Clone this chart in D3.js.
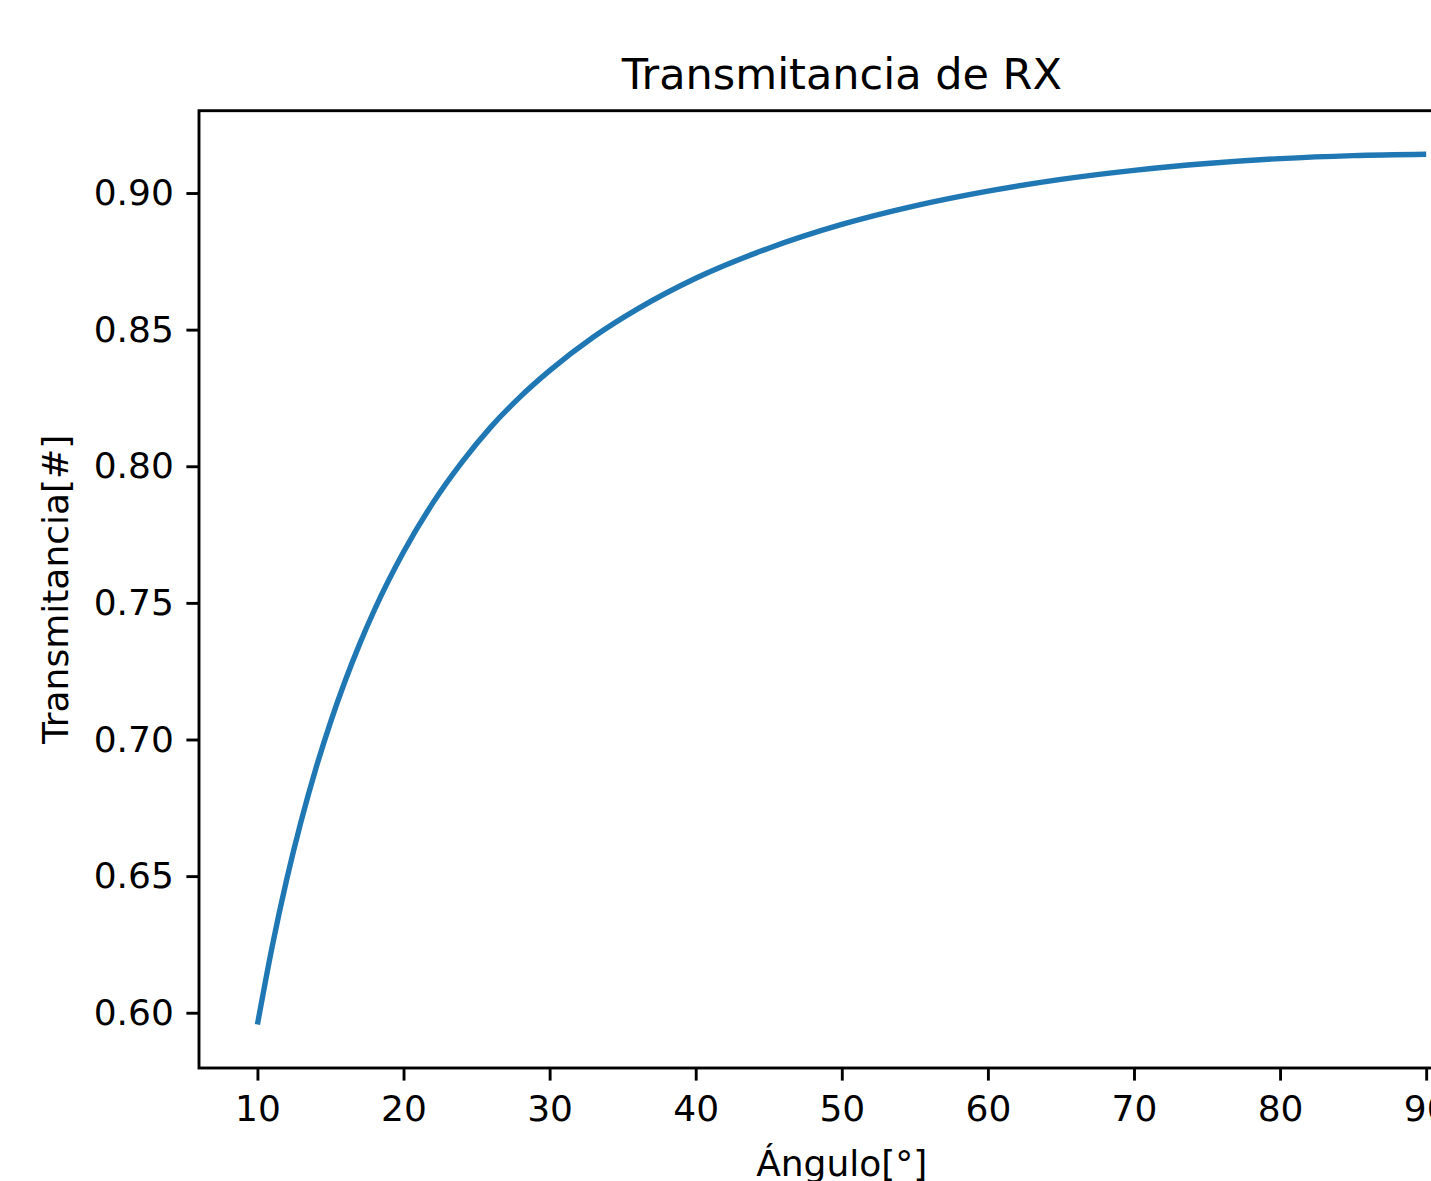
<!DOCTYPE html>
<html>
<head>
<meta charset="utf-8">
<script src="https://cdn.jsdelivr.net/npm/d3@7"></script>
<style>
  body { margin: 0; background: #fff; }
  .chart text { font-family: "DejaVu Sans", sans-serif; fill: #000; }
</style>
</head>
<body>
<div class="chart"></div>
<script>
// Angle values (degrees) and the transmittance
var angulos = [10, 11, 12, 13, 14, 15, 16, 17, 18, 20, 22, 24, 26, 28, 30,
  33, 36, 40, 45, 50, 55, 60, 65, 70, 75, 80, 85, 90];
var transmitancia = [0.5957, 0.6240, 0.6487, 0.6703, 0.6894, 0.7063, 0.7214,
  0.7350, 0.7473, 0.7686, 0.7865, 0.8015, 0.8145, 0.8255, 0.8350, 0.8473,
  0.8575, 0.8688, 0.8798, 0.8885, 0.8953, 0.9007, 0.9050, 0.9083, 0.9108,
  0.9126, 0.9137, 0.9142];
var xTicks = [10, 20, 30, 40, 50, 60, 70, 80, 90];
var yTicks = [0.60, 0.65, 0.70, 0.75, 0.80, 0.85, 0.90];

var svgWidth = 1431;
var svgHeight = 1181;

// axes box (the right side runs past the picture edge, as in the original)
var margin = { top: 110.7, left: 199 };
var width = 1285.6;
var height = 957.3;

var svg = d3.select(".chart")
  .append("svg")
  .attr("width", svgWidth)
  .attr("height", svgHeight);

var chart = svg.append("g")
  .attr("transform", "translate(" + margin.left + "," + margin.top + ")");

var data = angulos.map(function(a, i) {
  return { angulo: a, t: transmitancia[i] };
});

// matplotlib-like 5% margins
var xMin = d3.min(angulos), xMax = d3.max(angulos);
var yMin = d3.min(transmitancia), yMax = d3.max(transmitancia);
var xPad = (xMax - xMin) * 0.05, yPad = (yMax - yMin) * 0.05;

var xLinearScale = d3.scaleLinear()
  .domain([xMin - xPad, xMax + xPad])
  .range([0, width]);

var yLinearScale = d3.scaleLinear()
  .domain([yMin - yPad, yMax + yPad])
  .range([height, 0]);

var line = d3.line()
  .x(function(d) { return xLinearScale(d.angulo); })
  .y(function(d) { return yLinearScale(d.t); })
  .curve(d3.curveMonotoneX);

chart.append("path")
  .datum(data)
  .attr("d", line)
  .attr("fill", "none")
  .attr("stroke", "#1f77b4")
  .attr("stroke-width", 5.4)
  .attr("stroke-linecap", "butt");

var bottomAxis = d3.axisBottom(xLinearScale)
  .tickValues(xTicks)
  .tickFormat(d3.format("d"))
  .tickSizeInner(12.6)
  .tickSizeOuter(0)
  .tickPadding(14.5);

var leftAxis = d3.axisLeft(yLinearScale)
  .tickValues(yTicks)
  .tickFormat(d3.format(".2f"))
  .tickSizeInner(12.6)
  .tickSizeOuter(0)
  .tickPadding(12.6);

var gx = chart.append("g")
  .attr("transform", "translate(0," + height + ")")
  .call(bottomAxis);

var gy = chart.append("g")
  .call(leftAxis);

[gx, gy].forEach(function(g) {
  g.select(".domain").remove();
  g.selectAll(".tick line").attr("stroke", "#000").attr("stroke-width", 2.9);
  g.selectAll(".tick text").attr("font-size", "36px");
});

// frame
chart.append("rect")
  .attr("x", 0)
  .attr("y", 0)
  .attr("width", width)
  .attr("height", height)
  .attr("fill", "none")
  .attr("stroke", "#000")
  .attr("stroke-width", 2.9);

// title
chart.append("text")
  .attr("x", width / 2)
  .attr("y", -21.6)
  .attr("text-anchor", "middle")
  .attr("font-size", "43px")
  .text("Transmitancia de RX");

// axis labels
chart.append("text")
  .attr("x", width / 2)
  .attr("y", height + 108)
  .attr("text-anchor", "middle")
  .attr("font-size", "36px")
  .text("Ángulo[°]");

chart.append("text")
  .attr("transform", "rotate(-90)")
  .attr("x", 0 - (height / 2))
  .attr("y", 68 - margin.left)
  .attr("text-anchor", "middle")
  .attr("font-size", "36px")
  .text("Transmitancia[#]");
</script>
</body>
</html>
